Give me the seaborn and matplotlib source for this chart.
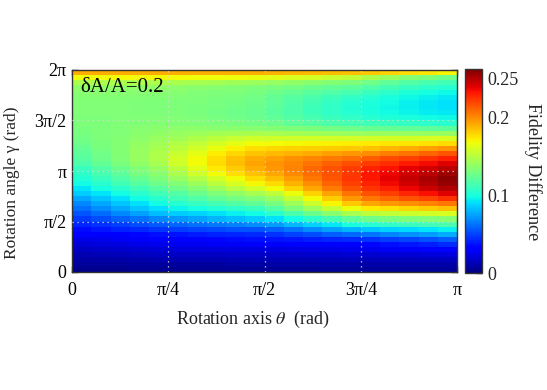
import numpy as np
import pandas as pd
import matplotlib
matplotlib.use("Agg")
import matplotlib.pyplot as plt
import seaborn as sns

# ---------------- data ----------------
# theta (rotation axis) columns: 20 cells from 0 to pi
# gamma (rotation angle) rows: 40 cells from 0 to 2*pi (first row = gamma near 0)
# values are Fidelity Difference x 1000
fidelity_diff_milli = [
    [4, 4, 4, 5, 5, 5, 5, 5, 6, 6, 6, 6, 6, 7, 7, 7, 7, 7, 7, 7],
    [7, 7, 7, 8, 8, 8, 8, 8, 9, 9, 9, 9, 9, 10, 10, 10, 10, 10, 10, 10],
    [9, 10, 10, 11, 12, 12, 12, 12, 13, 13, 13, 13, 13, 14, 14, 14, 14, 14, 15, 15],
    [12, 13, 14, 15, 16, 16, 16, 16, 17, 17, 17, 17, 18, 18, 19, 19, 20, 20, 21, 22],
    [16, 17, 18, 19, 20, 21, 21, 21, 22, 22, 22, 23, 23, 24, 25, 25, 27, 28, 30, 32],
    [20, 21, 22, 24, 25, 26, 26, 27, 27, 28, 28, 29, 30, 31, 32, 34, 36, 38, 40, 43],
    [24, 25, 27, 28, 30, 31, 32, 33, 35, 36, 37, 38, 40, 42, 44, 46, 49, 51, 54, 57],
    [29, 31, 32, 34, 36, 37, 39, 41, 42, 44, 46, 50, 53, 57, 60, 63, 67, 70, 73, 77],
    [35, 38, 41, 44, 47, 49, 51, 52, 54, 55, 58, 63, 69, 74, 79, 83, 86, 89, 92, 95],
    [42, 46, 49, 53, 56, 59, 62, 64, 66, 69, 73, 80, 86, 93, 100, 104, 107, 110, 112, 115],
    [48, 53, 58, 63, 68, 72, 75, 79, 82, 85, 91, 98, 106, 113, 121, 126, 129, 131, 133, 135],
    [55, 61, 68, 74, 81, 85, 88, 91, 95, 98, 105, 115, 125, 135, 145, 151, 153, 156, 158, 160],
    [62, 69, 76, 83, 90, 96, 99, 103, 106, 110, 118, 130, 142, 154, 166, 173, 176, 179, 182, 185],
    [68, 76, 83, 91, 98, 104, 109, 113, 118, 122, 129, 142, 156, 170, 183, 192, 196, 199, 202, 205],
    [76, 83, 91, 98, 105, 112, 117, 123, 128, 133, 140, 154, 168, 182, 196, 205, 210, 215, 220, 225],
    [85, 92, 98, 105, 112, 118, 125, 132, 138, 145, 152, 166, 180, 193, 206, 215, 221, 228, 234, 240],
    [92, 99, 105, 112, 119, 126, 134, 142, 150, 158, 168, 180, 192, 204, 215, 224, 230, 237, 244, 250],
    [98, 105, 112, 119, 126, 133, 142, 151, 160, 169, 178, 189, 199, 210, 221, 229, 236, 243, 250, 256],
    [103, 110, 117, 124, 131, 140, 149, 159, 168, 178, 186, 195, 205, 214, 224, 232, 239, 246, 252, 258],
    [106, 114, 121, 129, 136, 146, 157, 168, 177, 185, 192, 200, 208, 215, 223, 232, 237, 243, 248, 254],
    [110, 118, 125, 133, 140, 151, 163, 173, 182, 190, 196, 202, 209, 215, 222, 229, 233, 239, 243, 248],
    [116, 123, 130, 138, 145, 157, 168, 178, 186, 193, 197, 201, 206, 211, 216, 222, 226, 231, 235, 240],
    [119, 126, 133, 140, 147, 158, 168, 177, 185, 191, 194, 198, 201, 204, 207, 212, 217, 221, 225, 230],
    [121, 127, 134, 140, 147, 155, 164, 172, 179, 184, 187, 189, 191, 194, 196, 199, 203, 206, 210, 214],
    [123, 129, 134, 140, 145, 151, 158, 165, 171, 177, 179, 180, 181, 182, 183, 185, 188, 191, 194, 197],
    [126, 130, 134, 139, 143, 148, 153, 159, 164, 168, 168, 169, 170, 171, 172, 173, 174, 175, 176, 178],
    [128, 131, 134, 137, 140, 143, 147, 151, 155, 157, 157, 157, 158, 158, 158, 158, 159, 159, 160, 160],
    [129, 131, 133, 136, 138, 140, 142, 144, 145, 146, 145, 144, 143, 142, 141, 141, 141, 140, 140, 140],
    [130, 132, 133, 135, 136, 137, 137, 136, 136, 135, 134, 132, 130, 128, 126, 124, 123, 122, 121, 120],
    [131, 132, 133, 133, 134, 134, 133, 132, 130, 128, 126, 122, 119, 116, 114, 112, 110, 108, 106, 105],
    [132, 132, 133, 133, 133, 133, 131, 129, 127, 125, 122, 118, 114, 110, 107, 104, 102, 100, 98, 97],
    [133, 133, 133, 132, 132, 132, 130, 128, 126, 124, 120, 116, 111, 107, 104, 101, 98, 96, 94, 93],
    [133, 133, 133, 132, 132, 132, 130, 129, 127, 125, 121, 116, 111, 107, 103, 100, 97, 95, 93, 91],
    [133, 133, 133, 132, 132, 132, 131, 129, 128, 126, 122, 117, 113, 108, 104, 101, 98, 95, 93, 91],
    [134, 134, 134, 133, 133, 133, 132, 130, 129, 127, 123, 119, 115, 111, 107, 104, 100, 97, 95, 93],
    [135, 135, 135, 135, 135, 135, 133, 132, 131, 129, 126, 123, 120, 117, 114, 110, 106, 102, 99, 97],
    [138, 138, 138, 138, 138, 137, 136, 135, 134, 132, 130, 128, 125, 123, 121, 117, 113, 109, 106, 104],
    [147, 147, 147, 147, 147, 146, 145, 144, 143, 142, 140, 138, 136, 134, 132, 127, 122, 118, 115, 113],
    [167, 167, 168, 168, 168, 168, 167, 167, 166, 165, 163, 160, 158, 155, 152, 146, 140, 134, 130, 126],
    [190, 190, 190, 190, 190, 190, 190, 190, 190, 190, 189, 188, 187, 186, 185, 183, 180, 177, 174, 170],
]

theta_tick_fracs = [0, 0.25, 0.5, 0.75, 1.0]          # fraction of pi
theta_tick_labels = ["0", "π/4", "π/2", "3π/4", "π"]
gamma_tick_fracs = [0, 0.25, 0.5, 0.75, 1.0]          # fraction of 2*pi
gamma_tick_labels = ["0", "π/2", "π", "3π/2", "2π"]
cbar_ticks = [0, 0.1, 0.2, 0.25]
cbar_tick_labels = ["0", "0.1", "0.2", "0.25"]
annotation = "δA/A=0.2"

# ---------------- figure ----------------
sns.set_style("white")
plt.rcParams["font.family"] = ["Liberation Serif", "DejaVu Serif"]
plt.rcParams["mathtext.fontset"] = "stix"

W, H = 547, 390
fig = plt.figure(figsize=(W / 100, H / 100), dpi=100)
ax = fig.add_axes([72 / W, (H - 272) / H, 385 / W, 202 / H])
cax = fig.add_axes([465 / W, (H - 273) / H, 17 / W, 204 / H])

mat = np.array(fidelity_diff_milli, dtype=float) / 1000.0
nrow, ncol = mat.shape
df = pd.DataFrame(mat)

sns.heatmap(df, ax=ax, cbar_ax=cax, cmap="jet", vmin=0, vmax=0.262,
            xticklabels=False, yticklabels=False, linewidths=0)
ax.invert_yaxis()

edge = "#333333"
for s in ax.spines.values():
    s.set_visible(True)
    s.set_color(edge)
    s.set_linewidth(1.0)

ax.set_xticks([f * ncol for f in theta_tick_fracs])
ax.set_xticklabels(theta_tick_labels, fontsize=13)
ax.set_yticks([f * nrow for f in gamma_tick_fracs])
ax.set_yticklabels(gamma_tick_labels, fontsize=13, rotation=0)
ax.tick_params(axis="both", direction="in", length=4, width=1, color=edge,
               top=True, right=True, bottom=True, left=True, labelcolor="black")
ax.tick_params(axis="x", pad=7)
ax.tick_params(axis="y", pad=4)

# dotted grid lines
for f in theta_tick_fracs[1:-1]:
    ax.axvline(f * ncol, color="#d8d8d8", lw=0.9, ls=(0, (1, 3)), zorder=3)
for f in gamma_tick_fracs[1:-1]:
    ax.axhline(f * nrow, color="#d8d8d8", lw=0.9, ls=(0, (1, 3)), zorder=3)

ax.set_xlabel("Rotation axis $\\theta$  (rad)", fontsize=13)
ax.set_ylabel("Rotation angle γ (rad)", fontsize=12.5)
ax.xaxis.set_label_coords(0.47, -0.185)
ax.yaxis.set_label_coords(-0.135, 0.44)

ax.text(0.021, 0.915, annotation, transform=ax.transAxes, fontsize=15,
        ha="left", va="center", color="black")

# colorbar
cbar = ax.collections[0].colorbar
cbar.set_ticks(cbar_ticks)
cbar.set_ticklabels(cbar_tick_labels)
cax.tick_params(direction="in", length=4, width=1, color=edge, labelsize=13, pad=4)
cbar.outline.set_edgecolor(edge)
cbar.outline.set_linewidth(1.0)
fig.text(533 / W, 1 - 172 / H, "Fidelity Difference", rotation=270,
         ha="center", va="center", fontsize=13)

fig.savefig("out.png", dpi=100)
